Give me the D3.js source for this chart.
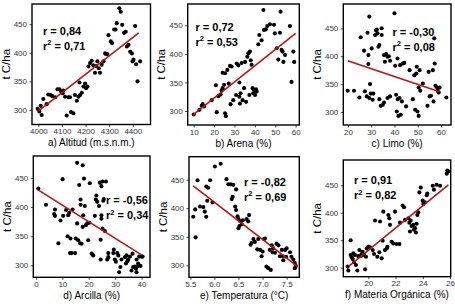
<!DOCTYPE html>
<html>
<head>
<meta charset="utf-8">
<script src="https://cdn.jsdelivr.net/npm/d3@7/dist/d3.min.js"></script>
<style>
  html, body { margin: 0; padding: 0; background: #fff; }
  svg { display: block; }
</style>
</head>
<body>
<div id="chart"></div>
<script>
// ---------------- DATA ----------------
const altitudX = [3997,4004,4014,4010,4021,4035,4042,4052,4059,4071,4081,4089,4096,4103,4106,4113,4120,4127,4134,4138,4148,4155,4163,4170,4174,4177,4184,4191,4198,4202,4208,4212,4219,4226,4233,4240,4245,4250,4256,4261,4268,4276,4283,4287,4292,4297,4307,4312,4321,4327,4332,4343,4349,4355,4363,4370,4375,4382,4389,4396,4399,4403,4410,4414,4420,4431];
const altitudY = [302,297,291,307,319,310,327,326,324,322,336,336,332,329,334,323,290,322,322,296,294,326,316,323,348,326,330,341,346,338,341,376,382,386,378,365,377,385,373,365,379,385,399,398,398,431,420,417,441,441,452,478,472,449,435,437,411,414,402,399,385,388,447,380,350,385];

const arenaX = [10,12.8,13.9,14.4,15.1,18.8,20.9,21.3,22.1,23.2,23.7,24.2,24.2,24.9,25.4,25.4,25.8,26.5,27.2,27.8,28.1,28.6,29.4,30.8,31.1,31.9,32.4,32.4,32.7,33.0,33.5,34.0,34.7,35.2,35.7,36.3,36.8,37.3,37.6,38.0,38.4,38.9,39.2,39.6,40.1,40.6,40.9,41.7,42.2,43.3,44.2,44.5,45.4,46.1,47.4,49.4,49.8,50.7,51.5,52.3,52.6,53.1,53.6,54.0,54.8,57.2,58.0,58.9,59.3];
const arenaY = [294,302,309,312,308,319,345,298,326,329,336,340,367,346,366,296,291,372,348,379,312,378,319,328,383,380,350,325,313,331,384,319,340,386,316,395,401,328,404,389,381,340,331,337,328,338,334,417,433,424,477,442,443,449,452,451,436,410,390,437,474,407,404,386,398,449,351,404,386];

const limoX = [19.9,22.6,24.9,25.5,26.9,27.3,28.1,28.4,28.8,28.8,29.2,29.2,29.5,29.8,30.2,30.6,30.9,31.7,32.1,32.4,32.7,33.1,33.5,33.5,34.1,34.5,34.5,35.0,35.5,35.5,35.9,36.4,37.0,37.0,37.6,38.1,38.1,40.0,40.3,40.7,41.0,41.3,41.4,41.7,42.2,42.4,42.7,43.2,43.6,44.2,45.0,46.5,47.9,48.5,48.9,49.4,49.6,49.9,50.4,50.4,50.8,51.1,52.2,54.2,54.7,55.1,55.7,56.5,56.8,57.1,57.3,57.6,58.3,58.6,59.0,59.4,62.3];
const limoY = [338,338,326,434,410,337,328,442,402,386,471,325,350,333,414,322,333,438,446,448,441,417,420,323,311,450,438,313,317,402,390,404,325,399,400,392,328,477,383,331,301,396,323,293,325,384,295,319,387,388,310,375,323,366,304,369,381,301,293,344,375,338,351,311,372,328,329,375,319,432,387,347,344,338,335,344,326];

const arcillaX = [0.9,3.8,6.9,7.2,7.2,8.5,9.3,10.1,10.3,11.4,12.0,12.2,12.6,12.9,13.1,13.5,13.9,14.8,15.1,15.6,15.6,16.0,16.4,16.7,16.9,16.9,17.3,17.7,17.7,17.9,18.2,18.5,18.9,19.4,19.8,20.2,20.4,21.1,21.7,22.3,22.7,22.9,23.2,23.9,24.2,24.5,24.5,24.8,24.8,24.8,25.2,25.2,25.5,25.7,26.1,26.5,27.0,27.4,27.4,29.3,29.5,29.9,30.3,30.8,31.2,31.5,32.0,32.4,33.7,34.1,34.3,34.6,34.9,35.6,36.2,36.6,36.8,37.5,37.9,38.1,38.1,38.4,38.7,39.1,39.6,40.0,40.4];
const arcillaY = [432,404,388,396,385,338,377,448,385,395,350,386,390,321,346,321,396,321,346,476,372,343,438,338,404,413,337,472,366,386,449,402,369,372,343,373,441,320,317,385,413,420,409,402,442,344,310,436,386,380,444,363,411,414,359,444,310,321,314,321,327,310,306,321,317,288,297,310,314,303,317,307,310,315,291,320,297,298,294,310,288,298,303,315,299,315,315];

const tempX = [5.56,5.60,5.61,5.65,5.70,5.77,5.80,5.83,5.83,5.85,5.87,5.91,5.96,6.01,6.13,6.25,6.29,6.34,6.36,6.38,6.39,6.43,6.45,6.45,6.48,6.50,6.50,6.52,6.54,6.57,6.59,6.67,6.70,6.72,6.75,6.77,6.81,6.84,6.89,6.91,6.95,6.98,7.00,7.03,7.05,7.08,7.12,7.15,7.17,7.19,7.21,7.22,7.26,7.29,7.33,7.36,7.40,7.42,7.43,7.47,7.49,7.50,7.57,7.60,7.64,7.67,7.67,7.69];
const tempY = [385,398,349,449,403,402,394,385,438,413,436,449,410,473,478,451,442,442,416,420,441,403,433,397,386,381,365,369,377,372,379,381,377,388,336,339,346,341,328,346,327,316,324,346,347,298,295,327,292,335,323,330,322,338,335,316,327,316,309,327,315,330,323,315,310,304,295,299];

const moX = [18.48,18.53,18.70,18.70,18.78,18.85,18.90,18.95,19.02,19.09,19.19,19.27,19.34,19.44,19.51,19.58,19.68,19.76,19.83,19.88,20.0,20.12,20.32,20.42,20.49,20.66,20.81,20.86,20.98,21.05,21.10,21.22,21.35,21.40,21.47,21.54,21.59,21.71,21.84,21.96,22.08,22.28,22.33,22.52,22.62,22.69,22.94,23.01,23.06,23.11,23.18,23.31,23.35,23.43,23.50,23.55,23.60,23.67,23.75,23.85,23.99,24.04,24.16,24.29,24.33,24.73,24.82,25.02,25.27,25.76,25.80,25.88];
const moY = [302,295,350,323,319,316,326,310,323,305,295,321,332,321,325,329,323,297,320,335,338,337,332,325,386,320,328,384,317,349,402,332,335,338,396,390,378,347,344,402,343,343,382,413,410,387,390,382,366,386,376,378,369,372,364,380,396,401,437,446,422,416,419,432,435,449,442,451,449,471,477,475];

// fitted lines (start / end in data units)
const fitA = [[3997, 297], [4425, 435]];
const fitB = [[9.5, 293], [60, 436]];
const fitC = [[19.9, 392], [59.7, 336]];
const fitD = [[0.5, 430.5], [40, 318]];
const fitE = [[5.56, 439], [7.73, 297.6]];
const fitF = [[18.53, 302], [25.88, 450.6]];

// ticks
const ticksA = [4000, 4100, 4200, 4300, 4400];
const ticksB = [10, 20, 30, 40, 50, 60];
const ticksC = [20, 30, 40, 50, 60];
const ticksD = [0, 10, 20, 30, 40];
const ticksE = [5.5, 6.0, 6.5, 7.0, 7.5];
const ticksF = [20, 22, 24, 26];
const ticksY = [300, 350, 400, 450];

// titles and statistics
const titles = ["a) Altitud (m.s.n.m.)", "b)  Arena (%)", "c) Limo (%)", "d) Arcilla (%)", "e) Temperatura (°C)", "f) Materia Orgánica (%)"];
const rValues = ["0,84", "0,72", "-0,30", "-0,56", "-0,82", "0,91"];
const r2Values = ["0,71", "0,53", "0,08", "0,34", "0,69", "0,82"];
const yTitle = "t C/ha";

// ---------------- LAYOUT ----------------
const W = 455, H = 307;
const panels = [
  {x: altitudX, y: altitudY, fit: fitA, ticks: ticksA, fmt: d => d, box: [32, 150.5, 4, 124.5], xd: [3973, 4475], yd: [274.3, 485.6], ann: [43, 34.5]},
  {x: arenaX, y: arenaY, fit: fitB, ticks: ticksB, fmt: d => d, box: [187.7, 299.3, 4, 125], xd: [7.06, 61.8], yd: [275.5, 487.4], ann: [195.5, 30.5]},
  {x: limoX, y: limoY, fit: fitC, ticks: ticksC, fmt: d => d, box: [343.3, 451, 4, 125], xd: [18.0, 64.3], yd: [276.7, 493.6], ann: [392.5, 35.5]},
  {x: arcillaX, y: arcillaY, fit: fitD, ticks: ticksD, fmt: d => d, box: [33.3, 150, 156, 277.3], xd: [-1.0, 43.2], yd: [279.4, 487.8], ann: [106, 204]},
  {x: tempX, y: tempY, fit: fitE, ticks: ticksE, fmt: d3.format(".1f"), box: [189, 299.3, 156.7, 277.3], xd: [5.472, 7.763], yd: [279, 490.3], ann: [244, 185.5]},
  {x: moX, y: moY, fit: fitF, ticks: ticksF, fmt: d => d, box: [343.3, 450.7, 160, 276.7], xd: [18.16, 26.05], yd: [283.6, 496], ann: [354, 184]}
];

const svg = d3.select("#chart").append("svg")
  .attr("width", W).attr("height", H)
  .attr("font-family", "Liberation Sans, Arial, sans-serif");

panels.forEach((p, i) => {
  const [L, R, T, B] = p.box;
  const xs = d3.scaleLinear().domain(p.xd).range([L, R]);
  const ys = d3.scaleLinear().domain(p.yd).range([B, T]);
  const g = svg.append("g");

  // axes
  const xAxis = g.append("g").attr("transform", `translate(0,${B})`)
    .call(d3.axisBottom(xs).tickValues(p.ticks).tickFormat(p.fmt).tickSize(2.5).tickPadding(1.5));
  const yAxis = g.append("g").attr("transform", `translate(${L},0)`)
    .call(d3.axisLeft(ys).tickValues(ticksY).tickSize(2.5).tickPadding(2.5));
  [xAxis, yAxis].forEach(a => {
    a.select(".domain").remove();
    a.selectAll(".tick line").attr("stroke", "#333").attr("stroke-width", 0.9);
    a.selectAll(".tick text").attr("fill", "#333").attr("font-size", 8).attr("font-family", "Liberation Sans, Arial, sans-serif");
  });

  // points
  const pts = p.x.map((v, k) => [v, p.y[k]]);
  g.append("g").selectAll("circle").data(pts).join("circle")
    .attr("cx", d => xs(d[0])).attr("cy", d => ys(d[1]))
    .attr("r", 2.05).attr("fill", "#000");

  // fit line
  g.append("path").datum(p.fit)
    .attr("d", d3.line().x(d => xs(d[0])).y(d => ys(d[1])))
    .attr("stroke", "#b81414").attr("stroke-width", 1.6).attr("fill", "none");

  // box
  g.append("rect").attr("x", L).attr("y", T).attr("width", R - L).attr("height", B - T)
    .attr("fill", "none").attr("stroke", "#000").attr("stroke-width", 1.4);

  // annotation
  const [ax, ay] = p.ann;
  g.append("text").attr("x", ax).attr("y", ay)
    .attr("font-size", 11).attr("font-weight", "bold").attr("fill", "#000")
    .text("r = " + rValues[i]);
  const t2 = g.append("text").attr("x", ax).attr("y", ay + 15)
    .attr("font-size", 11).attr("font-weight", "bold").attr("fill", "#000");
  t2.append("tspan").text("r");
  t2.append("tspan").attr("font-size", 7.5).attr("dy", -4.5).text("2");
  t2.append("tspan").attr("dy", 4.5).text(" = " + r2Values[i]);

  // x title
  g.append("text").attr("x", (L + R) / 2).attr("y", B + 21.5)
    .attr("text-anchor", "middle").attr("font-size", 10).attr("fill", "#000")
    .text(titles[i]);
  // y title
  g.append("text")
    .attr("transform", `translate(${L - 22.5},${(T + B) / 2}) rotate(-90)`)
    .attr("text-anchor", "middle").attr("font-size", 11.5).attr("fill", "#000")
    .text(yTitle);
});
</script>
</body>
</html>
